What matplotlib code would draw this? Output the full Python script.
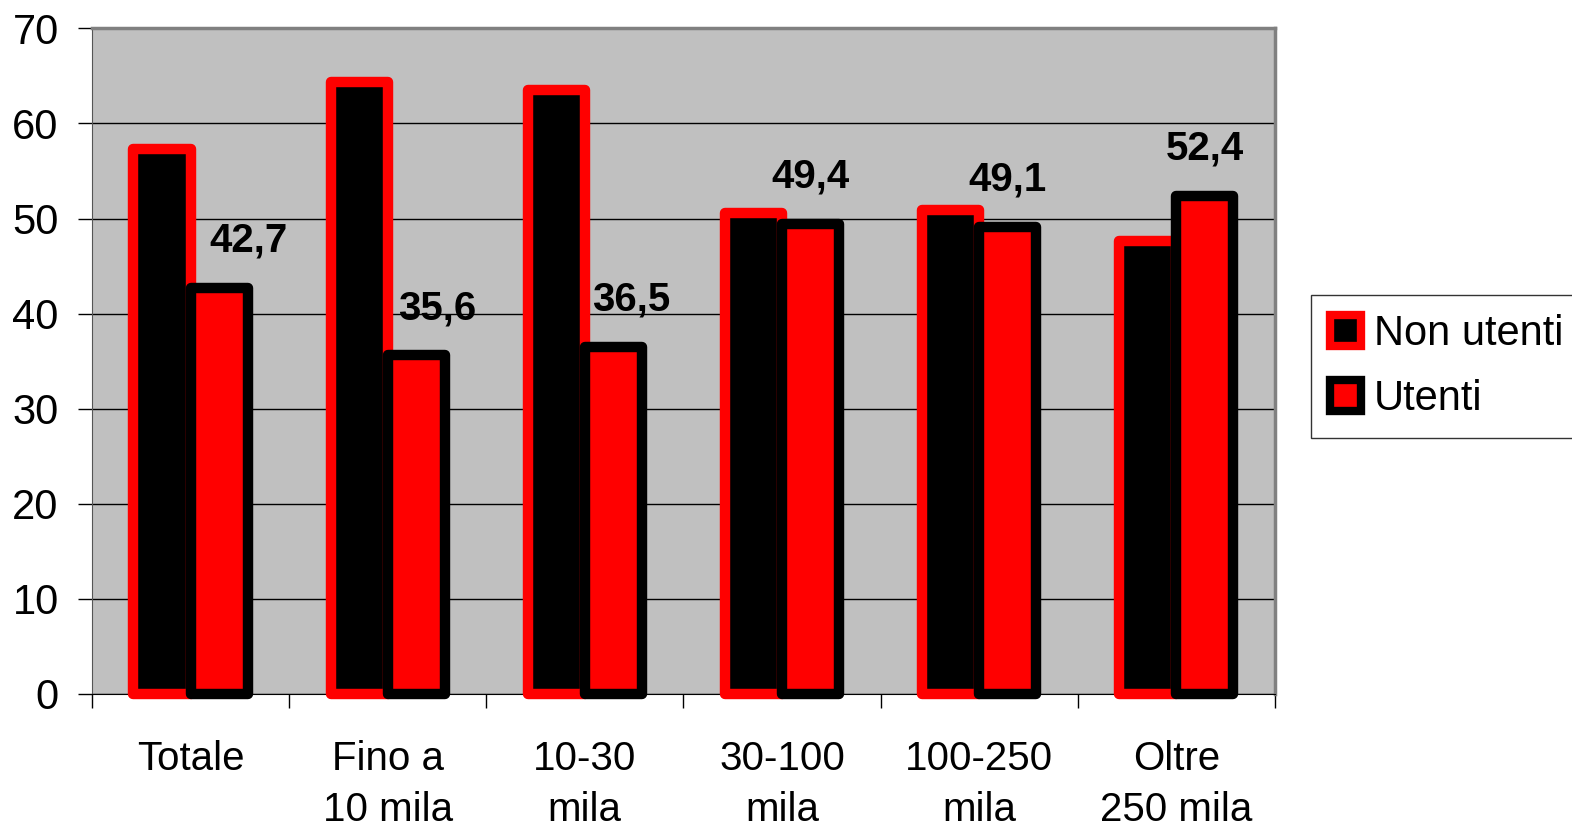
import matplotlib.pyplot as plt
import numpy as np
from matplotlib.patches import Patch

plt.rcParams['font.family'] = ['Liberation Sans', 'DejaVu Sans']

categories = ["Totale", "Fino a\n10 mila", "10-30\nmila", "30-100\nmila", "100-250\nmila", "Oltre\n250 mila"]
non_utenti = [57.3, 64.4, 63.5, 50.6, 50.9, 47.6]
utenti = [42.7, 35.6, 36.5, 49.4, 49.1, 52.4]
utenti_labels = ["42,7", "35,6", "36,5", "49,4", "49,1", "52,4"]

fig = plt.figure(figsize=(15.72, 8.34), dpi=100)
ax = fig.add_axes([0.0585, 0.168, 0.7525, 0.798])
ax.set_facecolor("#c0c0c0")

x = np.arange(len(categories))
w = 0.29
lw = 7.5
ax.bar(x - 0.145, non_utenti, w, color="black", edgecolor="red", linewidth=lw,
       joinstyle="round", clip_on=False, zorder=3)
ax.bar(x + 0.145, utenti, w, color="red", edgecolor="black", linewidth=lw,
       joinstyle="round", clip_on=False, zorder=4)

# label offsets in points (shifted right where the label would hit the other bar)
dx = [21, 15, 13, 0, 0, 0]
for i, v in enumerate(utenti):
    ax.annotate(utenti_labels[i], (x[i] + 0.145, v), xytext=(dx[i], 34), textcoords="offset points",
                ha="center", va="center", fontsize=29, fontweight="bold", zorder=5)

ax.set_xlim(-0.5, len(categories) - 0.5)
ax.set_ylim(0, 70)
ax.set_yticks(range(0, 71, 10))
ax.yaxis.grid(True, color="black", linewidth=1)
ax.set_axisbelow(True)
ax.set_xticks(x)
ax.set_xticklabels(categories, fontsize=29, linespacing=1.45)
ax.set_xticks(np.arange(-0.5, len(categories), 1), minor=True)
ax.tick_params(axis="x", which="major", length=0, pad=33)
ax.tick_params(axis="x", which="minor", length=10, width=1, direction="out")
ax.tick_params(axis="y", length=10, width=1, labelsize=30, pad=14)

ax.spines["left"].set_color("#555555")
ax.spines["bottom"].set_color("black")
ax.spines["top"].set_color("#808080")
ax.spines["right"].set_color("#808080")
ax.spines["top"].set_linewidth(2.5)
ax.spines["right"].set_linewidth(2.5)

handles = [Patch(facecolor="black", edgecolor="red", linewidth=6, label="Non utenti"),
           Patch(facecolor="red", edgecolor="black", linewidth=6, label="Utenti")]
leg = fig.legend(handles=handles, loc="upper left", bbox_to_anchor=(0.834, 0.646),
                 fontsize=30, frameon=True, fancybox=False, edgecolor="black",
                 handlelength=0.75, handleheight=0.75, handletextpad=0.3,
                 borderpad=0.45, labelspacing=0.6, borderaxespad=0)
leg.get_frame().set_linewidth(1)

fig.savefig("out.png", dpi=100)
